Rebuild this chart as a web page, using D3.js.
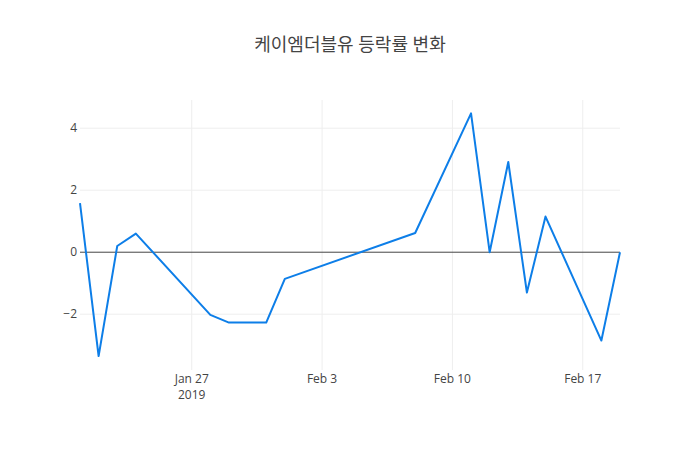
<!DOCTYPE html>
<html>
<head>
<meta charset="utf-8">
<script src="https://cdn.jsdelivr.net/npm/d3@7"></script>
<style>
  body { margin: 0; background: #fff; }
  svg { display: block; font-family: "Open Sans", "Noto Sans CJK KR", sans-serif; }
</style>
</head>
<body>
<svg id="chart" width="700" height="450"></svg>
<script>
const title = "케이엠더블유 등락률 변화";
const dates = ["2019-01-21","2019-01-22","2019-01-23","2019-01-24","2019-01-28","2019-01-29",
  "2019-01-31","2019-02-01","2019-02-08","2019-02-11","2019-02-12","2019-02-13",
  "2019-02-14","2019-02-15","2019-02-18","2019-02-19"];
const changes = [1.58, -3.35, 0.2, 0.6, -2.02, -2.27, -2.27, -0.86, 0.62, 4.48, 0.0, 2.91, -1.30, 1.15, -2.85, 0.0];
const xTickDates = ["2019-01-27","2019-02-03","2019-02-10","2019-02-17"];
const xTickLabels = [["Jan 27","2019"],["Feb 3"],["Feb 10"],["Feb 17"]];
const yTicks = [-2, 0, 2, 4];

const parse = d3.utcParse("%Y-%m-%d");
const data = dates.map((d, i) => ({ date: parse(d), value: changes[i] }));

const W = 700, H = 450, m = { l: 80, r: 80, t: 100, b: 80 };
const svg = d3.select("#chart");

const x = d3.scaleUtc()
  .domain([parse("2019-01-21"), parse("2019-02-19")])
  .range([m.l, W - m.r]);
const y = d3.scaleLinear()
  .domain([-3.80, 4.91])
  .range([H - m.b, m.t]);

// grid lines
svg.append("g").selectAll("line.vg").data(xTickDates).join("line")
  .attr("x1", d => x(parse(d))).attr("x2", d => x(parse(d)))
  .attr("y1", m.t).attr("y2", H - m.b)
  .attr("stroke", "#eee").attr("stroke-width", 1);
svg.append("g").selectAll("line.hg").data(yTicks.filter(t => t !== 0)).join("line")
  .attr("x1", m.l).attr("x2", W - m.r)
  .attr("y1", d => y(d)).attr("y2", d => y(d))
  .attr("stroke", "#eee").attr("stroke-width", 1);

// zero line
svg.append("line")
  .attr("x1", m.l).attr("x2", W - m.r)
  .attr("y1", y(0)).attr("y2", y(0))
  .attr("stroke", "#444").attr("stroke-width", 1);

// y axis labels
svg.append("g").selectAll("text").data(yTicks).join("text")
  .attr("x", m.l - 3).attr("y", d => y(d))
  .attr("dy", "0.35em")
  .attr("text-anchor", "end")
  .attr("font-size", 12).attr("fill", "#444")
  .text(d => d < 0 ? "\u2212" + Math.abs(d) : d);

// x axis labels
const xl = svg.append("g").selectAll("text").data(xTickDates).join("text")
  .attr("x", d => x(parse(d)))
  .attr("y", H - m.b + 13)
  .attr("text-anchor", "middle")
  .attr("font-size", 12).attr("fill", "#444");
xl.each(function(d, i) {
  const t = d3.select(this);
  xTickLabels[i].forEach((s, j) => {
    t.append("tspan").attr("x", x(parse(d))).attr("dy", j === 0 ? "0" : "1.3em").text(s);
  });
});

// line
svg.append("path")
  .datum(data)
  .attr("fill", "none")
  .attr("stroke", "#0d7ee8")
  .attr("stroke-width", 2)
  .attr("stroke-linejoin", "round")
  .attr("d", d3.line().x(d => x(d.date)).y(d => y(d.value)));

// title
svg.append("text")
  .attr("x", W / 2).attr("y", 51)
  .attr("text-anchor", "middle")
  .attr("font-size", 18).attr("fill", "#444")
  .text(title);
</script>
</body>
</html>
